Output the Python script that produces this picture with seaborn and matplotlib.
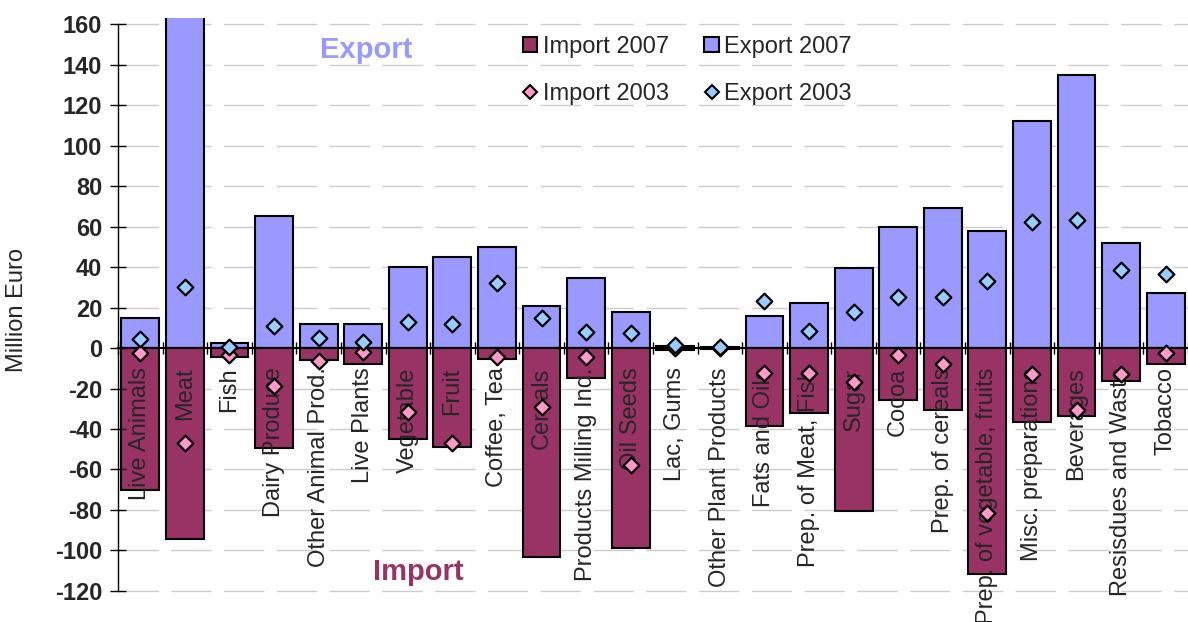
import matplotlib
matplotlib.use("Agg")
import matplotlib.pyplot as plt
import numpy as np
import pandas as pd
import seaborn as sns
from matplotlib.lines import Line2D
from matplotlib.patches import Patch
from matplotlib.ticker import FixedLocator

# Agri-food trade by product group, million euro
categories = [
    "Live Animals", "Meat", "Fish", "Dairy Produce", "Other Animal Prod.",
    "Live Plants", "Vegetable", "Fruit", "Coffee, Tea", "Cereals",
    "Products Milling Ind.", "Oil Seeds", "Lac, Gums", "Other Plant Products",
    "Fats and Oils", "Prep. of Meat, Fish", "Sugar", "Cocoa",
    "Prep. of cereals", "Prep. of vegetable, fruits", "Misc. preparations",
    "Beverages", "Resisdues and Waste", "Tobacco",
]
export_2007 = [15, 170, 2.5, 65, 12, 12, 40, 45, 50, 21, 34.5, 18, 1.0, 0.3,
               16, 22, 39.5, 60, 69, 58, 112, 135, 52, 27]
import_2007 = [-70, -94.5, -4.5, -49.5, -6, -8, -45, -49, -5.5, -103, -15, -99,
               -0.8, -0.3, -38.5, -32, -80.5, -25.7, -30.5, -111.6, -36.5,
               -33.5, -16.3, -8]
export_2003 = [4.5, 30, 0.5, 11, 5, 3, 13, 12, 32, 15, 8, 7.5, 1.5, 0.3,
               23, 8.5, 18, 25, 25, 33, 62, 63, 38.5, 36.5]
import_2003 = [-2.5, -47, -3.5, -19, -6.5, -2, -31.5, -47, -4.5, -29, -4.5, -58,
               -0.2, -0.1, -12.5, -12.5, -17, -3.5, -8, -81.5, -13, -30.5,
               -13, -2.5]
y_ticks = list(range(-120, 161, 20))

IMP07 = "#993366"
EXP07 = "#9999FF"
IMP03 = "#FF99CC"
EXP03 = "#99CCFF"

sns.set_style("ticks")
plt.rcParams["font.family"] = ["Liberation Sans", "DejaVu Sans"]

df = pd.DataFrame({
    "category": categories,
    "export_2007": export_2007,
    "import_2007": import_2007,
    "export_2003": export_2003,
    "import_2003": import_2003,
})

W, H = 1188, 622
fig = plt.figure(figsize=(W / 100, H / 100), dpi=100)
ax = fig.add_axes([118 / W, 29 / H, 1070 / W, 575 / H])

# dashed horizontal gridlines, kept beneath the bars
for v in y_ticks:
    ax.axhline(v, color="#CCCCCC", linewidth=1, linestyle=(0, (29, 9)), zorder=0.5)

bar_kw = dict(x="category", order=categories, width=0.85, saturation=1,
              edgecolor="black", linewidth=1.5, ax=ax, zorder=1)
sns.barplot(data=df, y="export_2007", color=EXP07, **bar_kw)
sns.barplot(data=df, y="import_2007", color=IMP07, **bar_kw)

pt_kw = dict(x="category", order=categories, jitter=False, marker="D",
             size=8, edgecolor="black", linewidth=1.6, ax=ax, zorder=4)
sns.stripplot(data=df, y="import_2003", color=IMP03, **pt_kw)
sns.stripplot(data=df, y="export_2003", color=EXP03, **pt_kw)

ax.set_xlim(-0.5, len(categories) - 0.5)
ax.set_ylim(-121, 163)
ax.set_axisbelow(False)
ax.grid(False)

# axes styling
for side in ("top", "right"):
    ax.spines[side].set_visible(False)
ax.spines["left"].set_bounds(-120, 160)
ax.spines["left"].set_color("black")
ax.spines["left"].set_linewidth(1)
ax.spines["bottom"].set_position(("data", 0))
ax.spines["bottom"].set_color("black")
ax.spines["bottom"].set_linewidth(1.5)
ax.spines["bottom"].set_zorder(3)

ax.set_yticks(y_ticks)
ax.set_yticklabels([str(v) for v in y_ticks], fontsize=17, fontweight="bold")
ax.tick_params(axis="y", direction="inout", length=11, width=1, color="black", pad=6)

ax.set_xticks(range(len(categories)))
ax.set_xticklabels(categories, rotation=90, fontsize=17)
ax.tick_params(axis="x", which="major", length=0, pad=14)
ax.xaxis.set_minor_locator(FixedLocator(np.arange(-0.5, len(categories), 1.0)))
ax.tick_params(axis="x", which="minor", direction="inout", length=9, width=1, color="black")
ax.set_xlabel("")

ax.set_ylabel("Million Euro", fontsize=17)
ax.yaxis.set_label_coords(-0.084, 0.492)

fig.text(366 / W, 1 - 50 / H, "Export", ha="center", va="center",
         fontsize=21, fontweight="bold", color=EXP07)
fig.text(418 / W, 1 - 572 / H, "Import", ha="center", va="center",
         fontsize=21, fontweight="bold", color=IMP07)

handles = [
    Patch(facecolor=IMP07, edgecolor="black", linewidth=1.5),
    Line2D([], [], marker="D", linestyle="none", markerfacecolor=IMP03,
           markeredgecolor="black", markersize=7, markeredgewidth=1.5),
    Patch(facecolor=EXP07, edgecolor="black", linewidth=1.5),
    Line2D([], [], marker="D", linestyle="none", markerfacecolor=EXP03,
           markeredgecolor="black", markersize=7, markeredgewidth=1.5),
]
labels = ["Import 2007", "Import 2003", "Export 2007", "Export 2003"]
fig.legend(handles, labels, ncol=2, loc="upper left",
           bbox_to_anchor=(511 / W, 1 - 24 / H), frameon=False, fontsize=17,
           borderpad=0, handlelength=0.6, handleheight=0.6, handletextpad=0.25,
           columnspacing=1.5, labelspacing=1.05)

fig.savefig("out.png", dpi=100)
